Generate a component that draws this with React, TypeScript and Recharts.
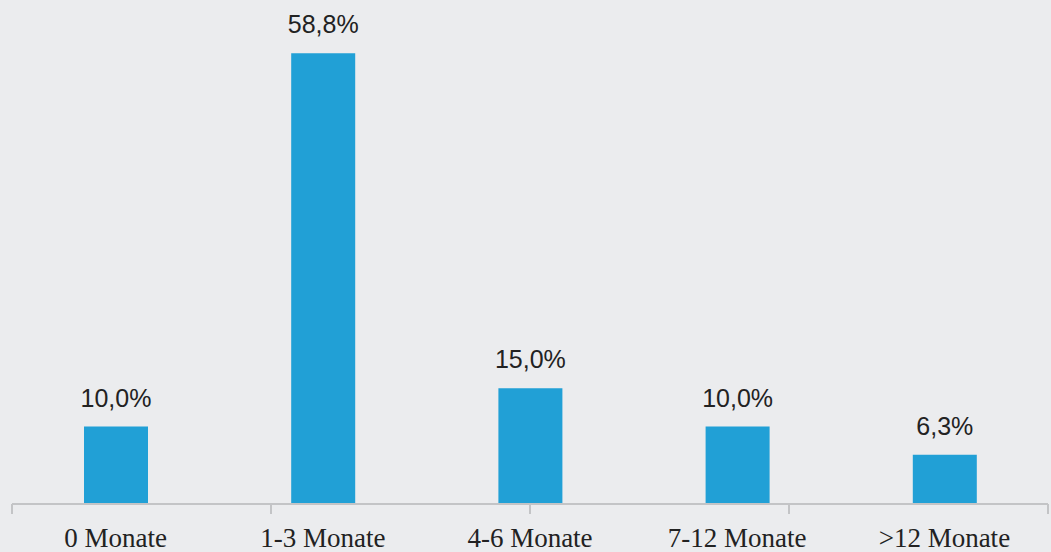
import React from 'react';
import { BarChart, Bar, XAxis, YAxis, LabelList } from 'recharts';

// Dauer bis zur Anschlussbeschäftigung
const categories = ['0 Monate', '1-3 Monate', '4-6 Monate', '7-12 Monate', '>12 Monate'];
const shares = [10.0, 58.8, 15.0, 10.0, 6.3];
const boundaryTicks = [0, 1, 2, 3, 4, 5];

const data = categories.map((name, i) => ({ name, share: shares[i] }));

const fmt = (v: any) => `${Number(v).toFixed(1).replace('.', ',')}%`;

const App: React.FC = () => {
  return (
    <div style={{ position: 'absolute', left: 0, top: 0, width: 1051, height: 552, background: '#EBECEE' }}>
      <BarChart
        width={1051}
        height={552}
        data={data}
        margin={{ top: 44, right: 3, left: 12, bottom: 0 }}
      >
        <XAxis
          xAxisId="grid"
          type="number"
          domain={[0, 5]}
          allowDataOverflow
          ticks={boundaryTicks}
          interval={0}
          tick={() => <g />}
          height={48}
          tickSize={10}
          axisLine={{ stroke: '#C3C4C6', strokeWidth: 2 }}
          tickLine={{ stroke: '#C3C4C6', strokeWidth: 2 }}
        />
        <XAxis
          dataKey="name"
          height={1}
          axisLine={false}
          tickLine={false}
          tickSize={0}
          tickMargin={25}
          interval={0}
          tick={{ fontSize: 27, fontFamily: 'Liberation Serif', fill: '#222' }}
        />
        <YAxis hide domain={[0, 60]} />
        <Bar dataKey="share" fill="#21A0D6" barSize={64} isAnimationActive={false}>
          <LabelList
            dataKey="share"
            position="top"
            offset={20}
            formatter={fmt}
            style={{ fontSize: 25, fontFamily: 'Liberation Sans', fill: '#222' }}
          />
        </Bar>
      </BarChart>
    </div>
  );
};

export default App;
